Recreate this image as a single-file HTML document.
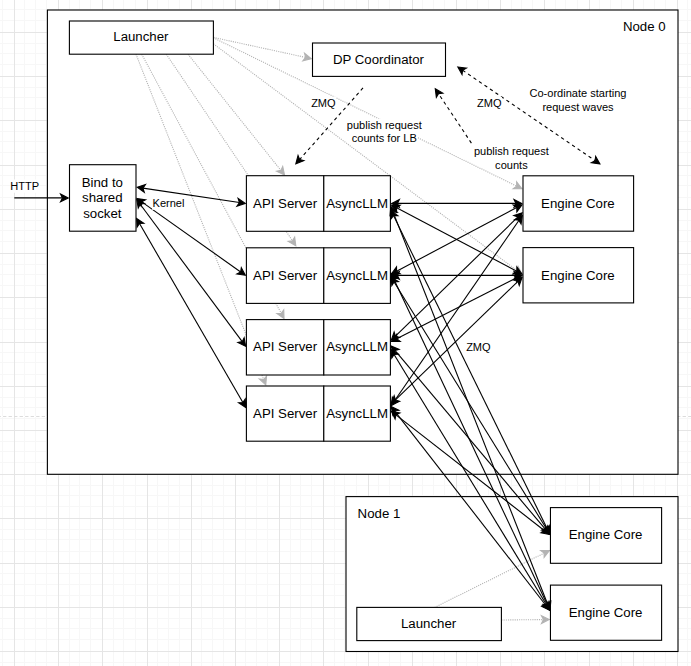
<!DOCTYPE html>
<html><head><meta charset="utf-8"><title>diagram</title>
<style>
html,body{margin:0;padding:0;background:#ffffff;}
body{width:691px;height:666px;overflow:hidden;}
svg{display:block;font-family:"Liberation Sans",sans-serif;}
</style></head><body>
<svg width="691" height="666" viewBox="0 0 691 666">
<rect width="691" height="666" fill="#ffffff"/>
<g shape-rendering="crispEdges"><rect x="-20" y="0" width="1" height="666" fill="#f7f7f7"/><rect x="-9" y="0" width="1" height="666" fill="#f7f7f7"/><rect x="2" y="0" width="1" height="666" fill="#f7f7f7"/><rect x="24" y="0" width="1" height="666" fill="#f7f7f7"/><rect x="35" y="0" width="1" height="666" fill="#f7f7f7"/><rect x="46" y="0" width="1" height="666" fill="#f7f7f7"/><rect x="69" y="0" width="1" height="666" fill="#f7f7f7"/><rect x="79" y="0" width="1" height="666" fill="#f7f7f7"/><rect x="90" y="0" width="1" height="666" fill="#f7f7f7"/><rect x="113" y="0" width="1" height="666" fill="#f7f7f7"/><rect x="123" y="0" width="1" height="666" fill="#f7f7f7"/><rect x="135" y="0" width="1" height="666" fill="#f7f7f7"/><rect x="157" y="0" width="1" height="666" fill="#f7f7f7"/><rect x="168" y="0" width="1" height="666" fill="#f7f7f7"/><rect x="179" y="0" width="1" height="666" fill="#f7f7f7"/><rect x="201" y="0" width="1" height="666" fill="#f7f7f7"/><rect x="212" y="0" width="1" height="666" fill="#f7f7f7"/><rect x="223" y="0" width="1" height="666" fill="#f7f7f7"/><rect x="245" y="0" width="1" height="666" fill="#f7f7f7"/><rect x="256" y="0" width="1" height="666" fill="#f7f7f7"/><rect x="267" y="0" width="1" height="666" fill="#f7f7f7"/><rect x="290" y="0" width="1" height="666" fill="#f7f7f7"/><rect x="300" y="0" width="1" height="666" fill="#f7f7f7"/><rect x="311" y="0" width="1" height="666" fill="#f7f7f7"/><rect x="334" y="0" width="1" height="666" fill="#f7f7f7"/><rect x="344" y="0" width="1" height="666" fill="#f7f7f7"/><rect x="356" y="0" width="1" height="666" fill="#f7f7f7"/><rect x="378" y="0" width="1" height="666" fill="#f7f7f7"/><rect x="389" y="0" width="1" height="666" fill="#f7f7f7"/><rect x="400" y="0" width="1" height="666" fill="#f7f7f7"/><rect x="422" y="0" width="1" height="666" fill="#f7f7f7"/><rect x="433" y="0" width="1" height="666" fill="#f7f7f7"/><rect x="444" y="0" width="1" height="666" fill="#f7f7f7"/><rect x="466" y="0" width="1" height="666" fill="#f7f7f7"/><rect x="477" y="0" width="1" height="666" fill="#f7f7f7"/><rect x="488" y="0" width="1" height="666" fill="#f7f7f7"/><rect x="511" y="0" width="1" height="666" fill="#f7f7f7"/><rect x="521" y="0" width="1" height="666" fill="#f7f7f7"/><rect x="532" y="0" width="1" height="666" fill="#f7f7f7"/><rect x="555" y="0" width="1" height="666" fill="#f7f7f7"/><rect x="565" y="0" width="1" height="666" fill="#f7f7f7"/><rect x="577" y="0" width="1" height="666" fill="#f7f7f7"/><rect x="599" y="0" width="1" height="666" fill="#f7f7f7"/><rect x="610" y="0" width="1" height="666" fill="#f7f7f7"/><rect x="621" y="0" width="1" height="666" fill="#f7f7f7"/><rect x="643" y="0" width="1" height="666" fill="#f7f7f7"/><rect x="654" y="0" width="1" height="666" fill="#f7f7f7"/><rect x="665" y="0" width="1" height="666" fill="#f7f7f7"/><rect x="687" y="0" width="1" height="666" fill="#f7f7f7"/><rect x="698" y="0" width="1" height="666" fill="#f7f7f7"/><rect x="709" y="0" width="1" height="666" fill="#f7f7f7"/><rect x="732" y="0" width="1" height="666" fill="#f7f7f7"/><rect x="742" y="0" width="1" height="666" fill="#f7f7f7"/><rect x="753" y="0" width="1" height="666" fill="#f7f7f7"/><rect x="776" y="0" width="1" height="666" fill="#f7f7f7"/><rect x="786" y="0" width="1" height="666" fill="#f7f7f7"/><rect x="798" y="0" width="1" height="666" fill="#f7f7f7"/><rect x="0" y="-2" width="691" height="1" fill="#f7f7f7"/><rect x="0" y="9" width="691" height="1" fill="#f7f7f7"/><rect x="0" y="20" width="691" height="1" fill="#f7f7f7"/><rect x="0" y="43" width="691" height="1" fill="#f7f7f7"/><rect x="0" y="53" width="691" height="1" fill="#f7f7f7"/><rect x="0" y="64" width="691" height="1" fill="#f7f7f7"/><rect x="0" y="87" width="691" height="1" fill="#f7f7f7"/><rect x="0" y="97" width="691" height="1" fill="#f7f7f7"/><rect x="0" y="108" width="691" height="1" fill="#f7f7f7"/><rect x="0" y="131" width="691" height="1" fill="#f7f7f7"/><rect x="0" y="141" width="691" height="1" fill="#f7f7f7"/><rect x="0" y="152" width="691" height="1" fill="#f7f7f7"/><rect x="0" y="175" width="691" height="1" fill="#f7f7f7"/><rect x="0" y="185" width="691" height="1" fill="#f7f7f7"/><rect x="0" y="197" width="691" height="1" fill="#f7f7f7"/><rect x="0" y="220" width="691" height="1" fill="#f7f7f7"/><rect x="0" y="230" width="691" height="1" fill="#f7f7f7"/><rect x="0" y="241" width="691" height="1" fill="#f7f7f7"/><rect x="0" y="264" width="691" height="1" fill="#f7f7f7"/><rect x="0" y="274" width="691" height="1" fill="#f7f7f7"/><rect x="0" y="285" width="691" height="1" fill="#f7f7f7"/><rect x="0" y="308" width="691" height="1" fill="#f7f7f7"/><rect x="0" y="318" width="691" height="1" fill="#f7f7f7"/><rect x="0" y="329" width="691" height="1" fill="#f7f7f7"/><rect x="0" y="352" width="691" height="1" fill="#f7f7f7"/><rect x="0" y="362" width="691" height="1" fill="#f7f7f7"/><rect x="0" y="374" width="691" height="1" fill="#f7f7f7"/><rect x="0" y="397" width="691" height="1" fill="#f7f7f7"/><rect x="0" y="407" width="691" height="1" fill="#f7f7f7"/><rect x="0" y="418" width="691" height="1" fill="#f7f7f7"/><rect x="0" y="441" width="691" height="1" fill="#f7f7f7"/><rect x="0" y="451" width="691" height="1" fill="#f7f7f7"/><rect x="0" y="462" width="691" height="1" fill="#f7f7f7"/><rect x="0" y="485" width="691" height="1" fill="#f7f7f7"/><rect x="0" y="495" width="691" height="1" fill="#f7f7f7"/><rect x="0" y="506" width="691" height="1" fill="#f7f7f7"/><rect x="0" y="529" width="691" height="1" fill="#f7f7f7"/><rect x="0" y="539" width="691" height="1" fill="#f7f7f7"/><rect x="0" y="551" width="691" height="1" fill="#f7f7f7"/><rect x="0" y="573" width="691" height="1" fill="#f7f7f7"/><rect x="0" y="584" width="691" height="1" fill="#f7f7f7"/><rect x="0" y="595" width="691" height="1" fill="#f7f7f7"/><rect x="0" y="618" width="691" height="1" fill="#f7f7f7"/><rect x="0" y="628" width="691" height="1" fill="#f7f7f7"/><rect x="0" y="639" width="691" height="1" fill="#f7f7f7"/><rect x="0" y="662" width="691" height="1" fill="#f7f7f7"/><rect x="0" y="672" width="691" height="1" fill="#f7f7f7"/><rect x="0" y="683" width="691" height="1" fill="#f7f7f7"/><rect x="0" y="706" width="691" height="1" fill="#f7f7f7"/><rect x="0" y="716" width="691" height="1" fill="#f7f7f7"/><rect x="0" y="727" width="691" height="1" fill="#f7f7f7"/><rect x="0" y="750" width="691" height="1" fill="#f7f7f7"/><rect x="0" y="760" width="691" height="1" fill="#f7f7f7"/><rect x="0" y="772" width="691" height="1" fill="#f7f7f7"/><rect x="0" y="795" width="691" height="1" fill="#f7f7f7"/><rect x="0" y="805" width="691" height="1" fill="#f7f7f7"/><rect x="0" y="816" width="691" height="1" fill="#f7f7f7"/><rect x="-30" y="0" width="1" height="666" fill="#e5e5e5"/><rect x="14" y="0" width="1" height="666" fill="#e5e5e5"/><rect x="58" y="0" width="1" height="666" fill="#e5e5e5"/><rect x="102" y="0" width="1" height="666" fill="#e5e5e5"/><rect x="147" y="0" width="1" height="666" fill="#e5e5e5"/><rect x="191" y="0" width="1" height="666" fill="#e5e5e5"/><rect x="235" y="0" width="1" height="666" fill="#e5e5e5"/><rect x="279" y="0" width="1" height="666" fill="#e5e5e5"/><rect x="323" y="0" width="1" height="666" fill="#e5e5e5"/><rect x="368" y="0" width="1" height="666" fill="#e5e5e5"/><rect x="412" y="0" width="1" height="666" fill="#e5e5e5"/><rect x="456" y="0" width="1" height="666" fill="#e5e5e5"/><rect x="500" y="0" width="1" height="666" fill="#e5e5e5"/><rect x="544" y="0" width="1" height="666" fill="#e5e5e5"/><rect x="589" y="0" width="1" height="666" fill="#e5e5e5"/><rect x="633" y="0" width="1" height="666" fill="#e5e5e5"/><rect x="677" y="0" width="1" height="666" fill="#e5e5e5"/><rect x="721" y="0" width="1" height="666" fill="#e5e5e5"/><rect x="765" y="0" width="1" height="666" fill="#e5e5e5"/><rect x="0" y="-12" width="691" height="1" fill="#e5e5e5"/><rect x="0" y="32" width="691" height="1" fill="#e5e5e5"/><rect x="0" y="76" width="691" height="1" fill="#e5e5e5"/><rect x="0" y="120" width="691" height="1" fill="#e5e5e5"/><rect x="0" y="165" width="691" height="1" fill="#e5e5e5"/><rect x="0" y="209" width="691" height="1" fill="#e5e5e5"/><rect x="0" y="253" width="691" height="1" fill="#e5e5e5"/><rect x="0" y="297" width="691" height="1" fill="#e5e5e5"/><rect x="0" y="342" width="691" height="1" fill="#e5e5e5"/><rect x="0" y="386" width="691" height="1" fill="#e5e5e5"/><rect x="0" y="430" width="691" height="1" fill="#e5e5e5"/><rect x="0" y="474" width="691" height="1" fill="#e5e5e5"/><rect x="0" y="518" width="691" height="1" fill="#e5e5e5"/><rect x="0" y="563" width="691" height="1" fill="#e5e5e5"/><rect x="0" y="607" width="691" height="1" fill="#e5e5e5"/><rect x="0" y="651" width="691" height="1" fill="#e5e5e5"/><rect x="0" y="695" width="691" height="1" fill="#e5e5e5"/><rect x="0" y="740" width="691" height="1" fill="#e5e5e5"/><rect x="0" y="784" width="691" height="1" fill="#e5e5e5"/></g>
<path d="M0 416.5H691" stroke="#ffffff" stroke-width="1" shape-rendering="crispEdges"/>
<path d="M0 416.5H691" stroke="#dcdcdc" stroke-width="1" stroke-dasharray="3.315 2.21" stroke-dashoffset="2.485" fill="none"/>
<rect x="47.40" y="10.00" width="630.60" height="464.30" fill="#ffffff" stroke="#000000" stroke-width="1.105"/>
<rect x="346.00" y="496.60" width="332.00" height="154.90" fill="#ffffff" stroke="#000000" stroke-width="1.105"/>
<path d="M213.40 37.40L305.62 57.41" fill="none" stroke="#b3b3b3" stroke-width="1.105" stroke-miterlimit="10" stroke-dasharray="1.105 1.105"/>
<path d="M311.29 58.64L302.91 60.78L305.62 57.41L304.55 53.22Z" fill="#b3b3b3" stroke="#b3b3b3" stroke-width="1.105" stroke-miterlimit="10"/>
<path d="M213.40 37.80L516.68 186.11" fill="none" stroke="#b3b3b3" stroke-width="1.105" stroke-miterlimit="10" stroke-dasharray="1.105 1.105"/>
<path d="M521.89 188.66L513.24 188.73L516.68 186.11L516.64 181.78Z" fill="#b3b3b3" stroke="#b3b3b3" stroke-width="1.105" stroke-miterlimit="10"/>
<path d="M213.40 43.80L517.36 270.79" fill="none" stroke="#b3b3b3" stroke-width="1.105" stroke-miterlimit="10" stroke-dasharray="1.105 1.105"/>
<path d="M522.01 274.26L513.50 272.73L517.36 270.79L518.13 266.53Z" fill="#b3b3b3" stroke="#b3b3b3" stroke-width="1.105" stroke-miterlimit="10"/>
<path d="M188.00 54.20L280.91 170.40" fill="none" stroke="#b3b3b3" stroke-width="1.105" stroke-miterlimit="10" stroke-dasharray="1.105 1.105"/>
<path d="M284.53 174.94L276.68 171.31L280.91 170.40L282.72 166.48Z" fill="#b3b3b3" stroke="#b3b3b3" stroke-width="1.105" stroke-miterlimit="10"/>
<path d="M166.30 54.20L292.56 240.87" fill="none" stroke="#b3b3b3" stroke-width="1.105" stroke-miterlimit="10" stroke-dasharray="1.105 1.105"/>
<path d="M295.81 245.68L288.27 241.44L292.56 240.87L294.68 237.10Z" fill="#b3b3b3" stroke="#b3b3b3" stroke-width="1.105" stroke-miterlimit="10"/>
<path d="M141.70 54.20L281.26 313.40" fill="none" stroke="#b3b3b3" stroke-width="1.105" stroke-miterlimit="10" stroke-dasharray="1.105 1.105"/>
<path d="M284.01 318.51L276.94 313.54L281.26 313.40L283.75 309.87Z" fill="#b3b3b3" stroke="#b3b3b3" stroke-width="1.105" stroke-miterlimit="10"/>
<path d="M136.00 54.20L263.63 379.45" fill="none" stroke="#b3b3b3" stroke-width="1.105" stroke-miterlimit="10" stroke-dasharray="1.105 1.105"/>
<path d="M265.75 384.85L259.32 379.06L263.63 379.45L266.52 376.24Z" fill="#b3b3b3" stroke="#b3b3b3" stroke-width="1.105" stroke-miterlimit="10"/>
<path d="M434.60 607.40L544.14 553.12" fill="none" stroke="#b3b3b3" stroke-width="1.105" stroke-miterlimit="10" stroke-dasharray="1.105 1.105"/>
<path d="M549.34 550.55L544.13 557.45L544.14 553.12L540.70 550.52Z" fill="#b3b3b3" stroke="#b3b3b3" stroke-width="1.105" stroke-miterlimit="10"/>
<path d="M501.40 620.00L543.41 619.57" fill="none" stroke="#b3b3b3" stroke-width="1.105" stroke-miterlimit="10" stroke-dasharray="1.105 1.105"/>
<path d="M549.21 619.51L541.52 623.46L543.41 619.57L541.44 615.72Z" fill="#b3b3b3" stroke="#b3b3b3" stroke-width="1.105" stroke-miterlimit="10"/>
<rect x="69.40" y="21.00" width="144.00" height="33.20" fill="#ffffff" stroke="#000000" stroke-width="1.105"/>
<rect x="312.50" y="43.00" width="133.00" height="33.40" fill="#ffffff" stroke="#000000" stroke-width="1.105"/>
<rect x="69.50" y="164.70" width="66.50" height="66.50" fill="#ffffff" stroke="#000000" stroke-width="1.105"/>
<rect x="523.00" y="175.80" width="110.60" height="55.40" fill="#ffffff" stroke="#000000" stroke-width="1.105"/>
<rect x="523.00" y="247.60" width="110.60" height="55.30" fill="#ffffff" stroke="#000000" stroke-width="1.105"/>
<rect x="550.45" y="507.60" width="111.15" height="55.70" fill="#ffffff" stroke="#000000" stroke-width="1.105"/>
<rect x="550.45" y="585.10" width="111.15" height="55.20" fill="#ffffff" stroke="#000000" stroke-width="1.105"/>
<rect x="356.80" y="607.40" width="144.60" height="33.20" fill="#ffffff" stroke="#000000" stroke-width="1.105"/>
<rect x="246.40" y="175.70" width="77.40" height="55.60" fill="#ffffff" stroke="#000000" stroke-width="1.105"/>
<rect x="323.80" y="175.70" width="66.60" height="55.60" fill="#ffffff" stroke="#000000" stroke-width="1.105"/>
<rect x="246.40" y="247.80" width="77.40" height="55.60" fill="#ffffff" stroke="#000000" stroke-width="1.105"/>
<rect x="323.80" y="247.80" width="66.60" height="55.60" fill="#ffffff" stroke="#000000" stroke-width="1.105"/>
<rect x="246.40" y="319.60" width="77.40" height="55.40" fill="#ffffff" stroke="#000000" stroke-width="1.105"/>
<rect x="323.80" y="319.60" width="66.60" height="55.40" fill="#ffffff" stroke="#000000" stroke-width="1.105"/>
<rect x="246.40" y="386.00" width="77.40" height="55.20" fill="#ffffff" stroke="#000000" stroke-width="1.105"/>
<rect x="323.80" y="386.00" width="66.60" height="55.20" fill="#ffffff" stroke="#000000" stroke-width="1.105"/>
<path d="M14.30 197.90L62.46 197.90" fill="none" stroke="#000000" stroke-width="1.105" stroke-miterlimit="10"/>
<path d="M68.26 197.90L60.53 201.77L62.46 197.90L60.53 194.03Z" fill="#000000" stroke="#000000" stroke-width="1.105" stroke-miterlimit="10"/>
<path d="M142.96 188.14L239.44 202.56" fill="none" stroke="#000000" stroke-width="1.105" stroke-miterlimit="10"/>
<path d="M137.22 187.28L145.44 184.60L142.96 188.14L144.30 192.25Z" fill="#000000" stroke="#000000" stroke-width="1.105" stroke-miterlimit="10"/>
<path d="M245.18 203.42L236.96 206.10L239.44 202.56L238.10 198.45Z" fill="#000000" stroke="#000000" stroke-width="1.105" stroke-miterlimit="10"/>
<path d="M141.74 201.87L240.66 271.93" fill="none" stroke="#000000" stroke-width="1.105" stroke-miterlimit="10"/>
<path d="M137.01 198.51L145.56 199.83L141.74 201.87L141.08 206.14Z" fill="#000000" stroke="#000000" stroke-width="1.105" stroke-miterlimit="10"/>
<path d="M245.39 275.29L236.84 273.97L240.66 271.93L241.32 267.66Z" fill="#000000" stroke="#000000" stroke-width="1.105" stroke-miterlimit="10"/>
<path d="M140.19 204.25L242.21 341.65" fill="none" stroke="#000000" stroke-width="1.105" stroke-miterlimit="10"/>
<path d="M136.74 199.59L144.45 203.50L140.19 204.25L138.24 208.11Z" fill="#000000" stroke="#000000" stroke-width="1.105" stroke-miterlimit="10"/>
<path d="M245.66 346.31L237.95 342.40L242.21 341.65L244.16 337.79Z" fill="#000000" stroke="#000000" stroke-width="1.105" stroke-miterlimit="10"/>
<path d="M139.52 223.49L242.88 402.51" fill="none" stroke="#000000" stroke-width="1.105" stroke-miterlimit="10"/>
<path d="M136.62 218.47L143.83 223.23L139.52 223.49L137.14 227.10Z" fill="#000000" stroke="#000000" stroke-width="1.105" stroke-miterlimit="10"/>
<path d="M245.78 407.53L238.57 402.77L242.88 402.51L245.26 398.90Z" fill="#000000" stroke="#000000" stroke-width="1.105" stroke-miterlimit="10"/>
<path d="M397.44 203.40L515.96 203.40" fill="none" stroke="#000000" stroke-width="1.105" stroke-miterlimit="10"/>
<path d="M391.64 203.40L399.37 199.53L397.44 203.40L399.37 207.27Z" fill="#000000" stroke="#000000" stroke-width="1.105" stroke-miterlimit="10"/>
<path d="M521.76 203.40L514.03 207.27L515.96 203.40L514.03 199.53Z" fill="#000000" stroke="#000000" stroke-width="1.105" stroke-miterlimit="10"/>
<path d="M396.62 207.79L516.78 271.21" fill="none" stroke="#000000" stroke-width="1.105" stroke-miterlimit="10"/>
<path d="M391.49 205.08L400.14 205.27L396.62 207.79L396.53 212.11Z" fill="#000000" stroke="#000000" stroke-width="1.105" stroke-miterlimit="10"/>
<path d="M521.91 273.92L513.26 273.73L516.78 271.21L516.87 266.89Z" fill="#000000" stroke="#000000" stroke-width="1.105" stroke-miterlimit="10"/>
<path d="M393.50 215.62L547.35 528.98" fill="none" stroke="#000000" stroke-width="1.105" stroke-miterlimit="10"/>
<path d="M390.94 210.41L397.82 215.65L393.50 215.62L390.88 219.06Z" fill="#000000" stroke="#000000" stroke-width="1.105" stroke-miterlimit="10"/>
<path d="M549.91 534.19L543.03 528.95L547.35 528.98L549.97 525.54Z" fill="#000000" stroke="#000000" stroke-width="1.105" stroke-miterlimit="10"/>
<path d="M392.98 211.85L547.87 604.75" fill="none" stroke="#000000" stroke-width="1.105" stroke-miterlimit="10"/>
<path d="M390.85 206.45L397.29 212.23L392.98 211.85L390.09 215.06Z" fill="#000000" stroke="#000000" stroke-width="1.105" stroke-miterlimit="10"/>
<path d="M550.00 610.15L543.56 604.37L547.87 604.75L550.76 601.54Z" fill="#000000" stroke="#000000" stroke-width="1.105" stroke-miterlimit="10"/>
<path d="M396.62 271.21L516.78 207.59" fill="none" stroke="#000000" stroke-width="1.105" stroke-miterlimit="10"/>
<path d="M391.49 273.92L396.52 266.88L396.62 271.21L400.14 273.72Z" fill="#000000" stroke="#000000" stroke-width="1.105" stroke-miterlimit="10"/>
<path d="M521.91 204.88L516.88 211.92L516.78 207.59L513.26 205.08Z" fill="#000000" stroke="#000000" stroke-width="1.105" stroke-miterlimit="10"/>
<path d="M397.44 275.40L515.96 275.40" fill="none" stroke="#000000" stroke-width="1.105" stroke-miterlimit="10"/>
<path d="M391.64 275.40L399.37 271.53L397.44 275.40L399.37 279.27Z" fill="#000000" stroke="#000000" stroke-width="1.105" stroke-miterlimit="10"/>
<path d="M521.76 275.40L514.03 279.27L515.96 275.40L514.03 271.53Z" fill="#000000" stroke="#000000" stroke-width="1.105" stroke-miterlimit="10"/>
<path d="M394.10 281.99L546.75 529.31" fill="none" stroke="#000000" stroke-width="1.105" stroke-miterlimit="10"/>
<path d="M391.05 277.05L398.40 281.60L394.10 281.99L391.82 285.66Z" fill="#000000" stroke="#000000" stroke-width="1.105" stroke-miterlimit="10"/>
<path d="M549.80 534.25L542.45 529.70L546.75 529.31L549.03 525.64Z" fill="#000000" stroke="#000000" stroke-width="1.105" stroke-miterlimit="10"/>
<path d="M393.40 278.36L547.45 604.94" fill="none" stroke="#000000" stroke-width="1.105" stroke-miterlimit="10"/>
<path d="M390.93 273.12L397.72 278.46L393.40 278.36L390.73 281.76Z" fill="#000000" stroke="#000000" stroke-width="1.105" stroke-miterlimit="10"/>
<path d="M549.92 610.18L543.13 604.84L547.45 604.94L550.12 601.54Z" fill="#000000" stroke="#000000" stroke-width="1.105" stroke-miterlimit="10"/>
<path d="M395.44 336.09L517.96 216.91" fill="none" stroke="#000000" stroke-width="1.105" stroke-miterlimit="10"/>
<path d="M391.29 340.14L394.13 331.97L395.44 336.09L399.53 337.52Z" fill="#000000" stroke="#000000" stroke-width="1.105" stroke-miterlimit="10"/>
<path d="M522.11 212.86L519.27 221.03L517.96 216.91L513.87 215.48Z" fill="#000000" stroke="#000000" stroke-width="1.105" stroke-miterlimit="10"/>
<path d="M396.67 338.81L516.73 277.69" fill="none" stroke="#000000" stroke-width="1.105" stroke-miterlimit="10"/>
<path d="M391.50 341.44L396.64 334.48L396.67 338.81L400.15 341.38Z" fill="#000000" stroke="#000000" stroke-width="1.105" stroke-miterlimit="10"/>
<path d="M521.90 275.06L516.76 282.02L516.73 277.69L513.25 275.12Z" fill="#000000" stroke="#000000" stroke-width="1.105" stroke-miterlimit="10"/>
<path d="M394.93 350.39L545.92 529.91" fill="none" stroke="#000000" stroke-width="1.105" stroke-miterlimit="10"/>
<path d="M391.20 345.95L399.13 349.38L394.93 350.39L393.21 354.35Z" fill="#000000" stroke="#000000" stroke-width="1.105" stroke-miterlimit="10"/>
<path d="M549.65 534.35L541.72 530.92L545.92 529.91L547.64 525.95Z" fill="#000000" stroke="#000000" stroke-width="1.105" stroke-miterlimit="10"/>
<path d="M394.06 354.51L546.79 605.29" fill="none" stroke="#000000" stroke-width="1.105" stroke-miterlimit="10"/>
<path d="M391.04 349.56L398.37 354.15L394.06 354.51L391.76 358.17Z" fill="#000000" stroke="#000000" stroke-width="1.105" stroke-miterlimit="10"/>
<path d="M549.81 610.24L542.48 605.65L546.79 605.29L549.09 601.63Z" fill="#000000" stroke="#000000" stroke-width="1.105" stroke-miterlimit="10"/>
<path d="M394.39 401.01L519.01 220.29" fill="none" stroke="#000000" stroke-width="1.105" stroke-miterlimit="10"/>
<path d="M391.10 405.78L392.31 397.22L394.39 401.01L398.68 401.61Z" fill="#000000" stroke="#000000" stroke-width="1.105" stroke-miterlimit="10"/>
<path d="M522.30 215.52L521.09 224.08L519.01 220.29L514.72 219.69Z" fill="#000000" stroke="#000000" stroke-width="1.105" stroke-miterlimit="10"/>
<path d="M395.46 399.91L517.94 281.39" fill="none" stroke="#000000" stroke-width="1.105" stroke-miterlimit="10"/>
<path d="M391.29 403.94L394.16 395.78L395.46 399.91L399.54 401.34Z" fill="#000000" stroke="#000000" stroke-width="1.105" stroke-miterlimit="10"/>
<path d="M522.11 277.36L519.24 285.52L517.94 281.39L513.86 279.96Z" fill="#000000" stroke="#000000" stroke-width="1.105" stroke-miterlimit="10"/>
<path d="M395.95 414.83L544.90 530.97" fill="none" stroke="#000000" stroke-width="1.105" stroke-miterlimit="10"/>
<path d="M391.37 411.26L399.85 412.97L395.95 414.83L395.10 419.07Z" fill="#000000" stroke="#000000" stroke-width="1.105" stroke-miterlimit="10"/>
<path d="M549.48 534.54L541.00 532.83L544.90 530.97L545.75 526.73Z" fill="#000000" stroke="#000000" stroke-width="1.105" stroke-miterlimit="10"/>
<path d="M394.72 411.05L546.13 605.75" fill="none" stroke="#000000" stroke-width="1.105" stroke-miterlimit="10"/>
<path d="M391.16 406.48L398.96 410.21L394.72 411.05L392.85 414.96Z" fill="#000000" stroke="#000000" stroke-width="1.105" stroke-miterlimit="10"/>
<path d="M549.69 610.32L541.89 606.59L546.13 605.75L548.00 601.84Z" fill="#000000" stroke="#000000" stroke-width="1.105" stroke-miterlimit="10"/>
<path d="M363.00 87.90L299.66 159.53" fill="none" stroke="#000000" stroke-width="1.105" stroke-miterlimit="10" stroke-dasharray="3.315 3.315"/>
<path d="M295.82 163.87L298.04 155.52L299.66 159.53L303.84 160.64Z" fill="#000000" stroke="#000000" stroke-width="1.105" stroke-miterlimit="10"/>
<path d="M471.40 143.10L438.50 93.66" fill="none" stroke="#000000" stroke-width="1.105" stroke-miterlimit="10" stroke-dasharray="3.315 3.315"/>
<path d="M435.28 88.83L442.79 93.13L438.50 93.66L436.35 97.41Z" fill="#000000" stroke="#000000" stroke-width="1.105" stroke-miterlimit="10"/>
<path d="M462.61 70.27L595.09 160.63" fill="none" stroke="#000000" stroke-width="1.105" stroke-miterlimit="10" stroke-dasharray="3.315 3.315"/>
<path d="M457.82 67.00L466.39 68.16L462.61 70.27L462.03 74.55Z" fill="#000000" stroke="#000000" stroke-width="1.105" stroke-miterlimit="10"/>
<path d="M599.88 163.90L591.31 162.74L595.09 160.63L595.67 156.35Z" fill="#000000" stroke="#000000" stroke-width="1.105" stroke-miterlimit="10"/>
<rect x="9.78" y="179.50" width="29.85" height="13.26" fill="#ffffff"/>
<text x="24.70" y="190.00" font-size="11.05" text-anchor="middle" fill="#000000">HTTP</text>
<rect x="152.03" y="196.50" width="32.94" height="13.26" fill="#ffffff"/>
<text x="168.50" y="207.00" font-size="11.05" text-anchor="middle" fill="#000000">Kernel</text>
<rect x="310.63" y="96.70" width="25.55" height="13.26" fill="#ffffff"/>
<text x="323.40" y="107.20" font-size="11.05" text-anchor="middle" fill="#000000">ZMQ</text>
<rect x="476.53" y="96.80" width="25.55" height="13.26" fill="#ffffff"/>
<text x="489.30" y="107.30" font-size="11.05" text-anchor="middle" fill="#000000">ZMQ</text>
<rect x="465.63" y="340.50" width="25.55" height="13.26" fill="#ffffff"/>
<text x="478.40" y="351.00" font-size="11.05" text-anchor="middle" fill="#000000">ZMQ</text>
<rect x="346.33" y="118.70" width="75.94" height="13.26" fill="#ffffff"/>
<rect x="351.25" y="131.40" width="66.11" height="13.26" fill="#ffffff"/>
<text x="384.30" y="129.20" font-size="11.05" text-anchor="middle" fill="#000000">publish request</text>
<text x="384.30" y="141.90" font-size="11.05" text-anchor="middle" fill="#000000">counts for LB</text>
<rect x="473.43" y="144.70" width="75.94" height="13.26" fill="#ffffff"/>
<rect x="494.62" y="158.50" width="33.56" height="13.26" fill="#ffffff"/>
<text x="511.40" y="155.20" font-size="11.05" text-anchor="middle" fill="#000000">publish request</text>
<text x="511.40" y="169.00" font-size="11.05" text-anchor="middle" fill="#000000">counts</text>
<rect x="528.98" y="86.90" width="98.04" height="13.26" fill="#ffffff"/>
<rect x="541.88" y="100.00" width="72.25" height="13.26" fill="#ffffff"/>
<text x="578.00" y="97.40" font-size="11.05" text-anchor="middle" fill="#000000">Co-ordinate starting</text>
<text x="578.00" y="110.50" font-size="11.05" text-anchor="middle" fill="#000000">request waves</text>
<text x="140.90" y="41.00" font-size="13.26" text-anchor="middle" fill="#000000">Launcher</text>
<text x="428.60" y="628.00" font-size="13.26" text-anchor="middle" fill="#000000">Launcher</text>
<text x="378.50" y="64.00" font-size="13.26" text-anchor="middle" fill="#000000">DP Coordinator</text>
<text x="577.90" y="208.00" font-size="13.26" text-anchor="middle" fill="#000000">Engine Core</text>
<text x="577.90" y="280.00" font-size="13.26" text-anchor="middle" fill="#000000">Engine Core</text>
<text x="605.63" y="539.00" font-size="13.26" text-anchor="middle" fill="#000000">Engine Core</text>
<text x="605.63" y="617.00" font-size="13.26" text-anchor="middle" fill="#000000">Engine Core</text>
<text x="285.10" y="208.00" font-size="13.26" text-anchor="middle" fill="#000000">API Server</text>
<text x="357.10" y="208.00" font-size="13.26" text-anchor="middle" fill="#000000">AsyncLLM</text>
<text x="285.10" y="280.00" font-size="13.26" text-anchor="middle" fill="#000000">API Server</text>
<text x="357.10" y="280.00" font-size="13.26" text-anchor="middle" fill="#000000">AsyncLLM</text>
<text x="285.10" y="351.00" font-size="13.26" text-anchor="middle" fill="#000000">API Server</text>
<text x="357.10" y="351.00" font-size="13.26" text-anchor="middle" fill="#000000">AsyncLLM</text>
<text x="285.10" y="418.00" font-size="13.26" text-anchor="middle" fill="#000000">API Server</text>
<text x="357.10" y="418.00" font-size="13.26" text-anchor="middle" fill="#000000">AsyncLLM</text>
<text x="102.35" y="187.00" font-size="13.26" text-anchor="middle" fill="#000000">Bind to</text>
<text x="102.35" y="202.00" font-size="13.26" text-anchor="middle" fill="#000000">shared</text>
<text x="102.35" y="218.00" font-size="13.26" text-anchor="middle" fill="#000000">socket</text>
<text x="644.30" y="30.90" font-size="13.26" text-anchor="middle" fill="#000000">Node 0</text>
<text x="357.60" y="518.30" font-size="13.26" text-anchor="start" fill="#000000">Node 1</text>
</svg>
</body></html>
